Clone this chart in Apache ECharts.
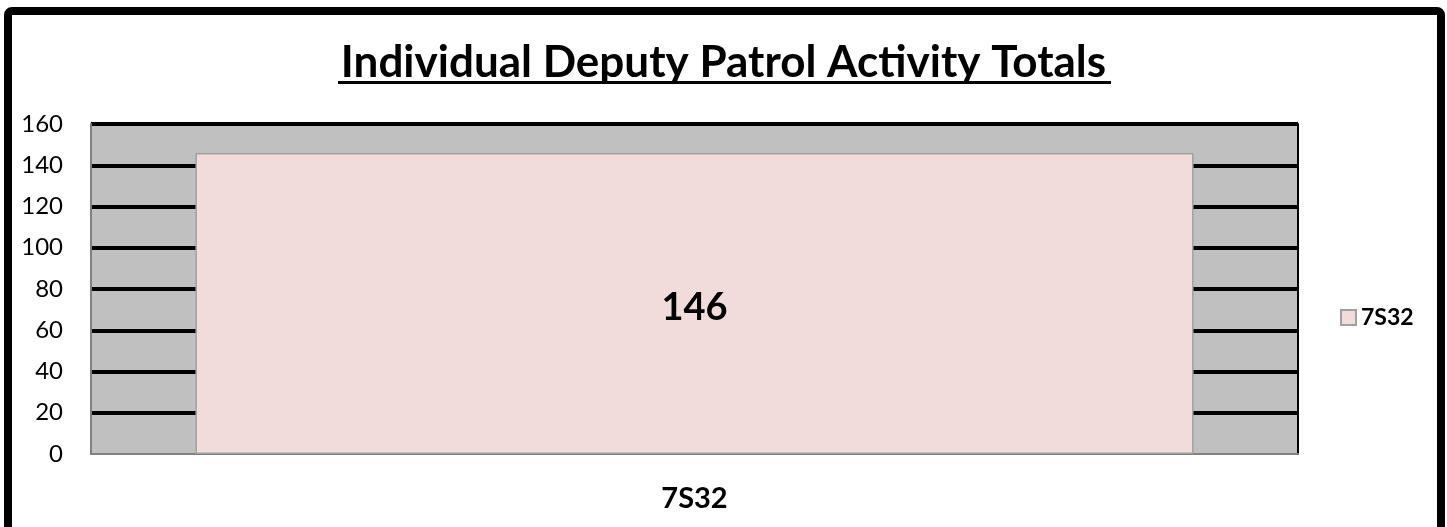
<!DOCTYPE html>
<html>
<head>
<meta charset="utf-8">
<script src="https://cdn.jsdelivr.net/npm/echarts@6/dist/echarts.min.js"></script>
<style>
  html, body { margin: 0; padding: 0; background: #fff; }
  #chart { width: 1447px; height: 527px; }
</style>
</head>
<body>
<div id="chart"></div>
<script>
  // data
  var categories = ['7S32'];
  var seriesName = '7S32';
  var totals = [146];
  var yMin = 0, yMax = 160, yStep = 20;

  var chart = echarts.init(document.getElementById('chart'));
  chart.setOption({
    animation: false,
    textStyle: {fontFamily: 'Lato'},
    title: {
      text: 'Individual Deputy Patrol Activity Totals',
      left: 'center',
      top: 36,
      textStyle: {fontFamily: 'Lato', fontWeight: 'bold', fontSize: 44, color: '#000'}
    },
    // outer frame + title underline
    graphic: [
      {type: 'rect', shape: {x: 8, y: 11, width: 1433, height: 700, r: 4},
        style: {fill: 'none', stroke: '#000', lineWidth: 8}, silent: true},
      {type: 'rect', shape: {x: 338, y: 81, width: 773, height: 3},
        style: {fill: '#000'}, silent: true}
    ],
    legend: {
      data: [seriesName],
      orient: 'vertical',
      left: 1335,
      top: 301,
      itemWidth: 15,
      itemHeight: 15,
      itemGap: 6,
      icon: 'rect',
      textStyle: {fontFamily: 'Lato', fontWeight: 'bold', fontSize: 23, color: '#000'}
    },
    grid: {
      left: 91, right: 149, top: 124, bottom: 73,
      show: true, backgroundColor: '#C0C0C0', borderWidth: 0
    },
    xAxis: {
      type: 'category',
      data: categories,
      axisLine: {show: true, lineStyle: {color: '#808080', width: 2}},
      axisTick: {show: false},
      axisLabel: {margin: 30, fontFamily: 'Lato', fontWeight: 'bold', fontSize: 29, color: '#000'}
    },
    yAxis: [
      {
        type: 'value',
        min: yMin, max: yMax, interval: yStep,
        axisLine: {show: true, lineStyle: {color: '#808080', width: 2}},
        axisTick: {show: false},
        axisLabel: {margin: 28, fontFamily: 'Lato', fontSize: 24, color: '#000'},
        splitLine: {show: true, showMinLine: false, lineStyle: {color: '#000', width: 4}}
      },
      {
        type: 'value', position: 'right',
        min: yMin, max: yMax, interval: yStep,
        axisLine: {show: true, lineStyle: {color: '#000', width: 2}},
        axisTick: {show: false}, axisLabel: {show: false}, splitLine: {show: false}
      }
    ],
    series: [{
      name: seriesName,
      type: 'bar',
      data: totals,
      barWidth: '82.7%',
      itemStyle: {color: '#F2DCDB', borderColor: '#A0A0A0', borderWidth: 1.5},
      label: {
        show: true, position: 'inside', offset: [0, 4],
        fontFamily: 'Lato', fontWeight: 'bold', fontSize: 38, color: '#000'
      }
    }]
  });
</script>
</body>
</html>
